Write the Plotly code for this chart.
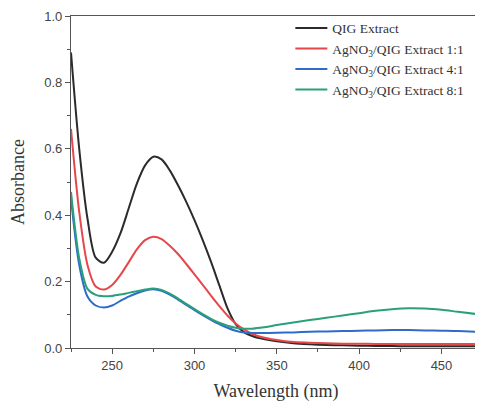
import plotly.graph_objects as go

# wavelengths (nm) and absorbance
wl = [225, 230, 235, 240, 245, 250, 255, 260, 265, 270, 275, 280, 285, 290, 295, 300,
      305, 310, 315, 320, 325, 330, 335, 340, 350, 360, 370, 380, 390, 400, 410, 420,
      430, 440, 450, 460, 475]

abs_qig = [0.89, 0.60, 0.39, 0.272, 0.257, 0.29, 0.345, 0.42, 0.495, 0.55, 0.576, 0.568, 0.535, 0.49, 0.44, 0.385,
           0.325, 0.26, 0.19, 0.12, 0.072, 0.048, 0.036, 0.029, 0.02, 0.014, 0.011, 0.009, 0.008, 0.007, 0.006, 0.006,
           0.005, 0.005, 0.005, 0.005, 0.005]

abs_11 = [0.66, 0.41, 0.25, 0.185, 0.176, 0.19, 0.22, 0.258, 0.297, 0.325, 0.335, 0.328, 0.308, 0.283, 0.253, 0.222,
          0.19, 0.158, 0.127, 0.098, 0.074, 0.056, 0.043, 0.034, 0.024, 0.018, 0.016, 0.014, 0.013, 0.013, 0.012, 0.012,
          0.012, 0.012, 0.012, 0.012, 0.012]

abs_41 = [0.45, 0.25, 0.155, 0.128, 0.122, 0.128, 0.142, 0.155, 0.165, 0.173, 0.177, 0.172, 0.161, 0.146, 0.13, 0.114,
          0.099, 0.085, 0.072, 0.061, 0.052, 0.047, 0.045, 0.045, 0.046, 0.047, 0.049, 0.05, 0.051, 0.052, 0.053, 0.054,
          0.054, 0.053, 0.052, 0.051, 0.048]

abs_81 = [0.47, 0.27, 0.178, 0.16, 0.156, 0.157, 0.161, 0.166, 0.171, 0.176, 0.179, 0.175, 0.164, 0.149, 0.133, 0.117,
          0.102, 0.088, 0.076, 0.067, 0.061, 0.058, 0.058, 0.061, 0.069, 0.077, 0.084, 0.091, 0.098, 0.105, 0.112, 0.117,
          0.12, 0.119, 0.115, 0.109, 0.10]

series = [
    ("QIG Extract", abs_qig, "#2b2b2b"),
    ("AgNO<sub>3</sub>/QIG Extract 1:1", abs_11, "#e5474b"),
    ("AgNO<sub>3</sub>/QIG Extract 4:1", abs_41, "#2f6cc9"),
    ("AgNO<sub>3</sub>/QIG Extract 8:1", abs_81, "#2aa07a"),
]

fig = go.Figure()
for name, y, col in series:
    fig.add_scatter(x=wl, y=y, mode="lines", name=name,
                    line=dict(color=col, width=2, shape="spline", smoothing=0.8))

serif = "Liberation Serif"
# page body has an 8px margin, so the figure is a bit smaller than the window
fig.update_layout(
    width=475, height=394,
    margin=dict(l=63, r=2, t=8, b=54),
    plot_bgcolor="white", paper_bgcolor="white",
    legend=dict(x=0.535, y=1.01, xanchor="left", yanchor="top",
                font=dict(family=serif, size=13.5, color="#333"),
                bgcolor="rgba(255,255,255,0)", tracegroupgap=0, itemwidth=32),
    xaxis=dict(
        range=[225, 474], tickvals=[250, 300, 350, 400, 450],
        ticks="outside", ticklen=5, tickcolor="#555",
        minor=dict(ticks="outside", ticklen=3, dtick=25, tick0=225, tickcolor="#555"),
        showline=True, linecolor="#555", linewidth=1.2, mirror=True, showgrid=False, zeroline=False,
        tickfont=dict(family="Liberation Sans", size=13, color="#444"),
        title=dict(text="Wavelength (nm)", font=dict(family=serif, size=18, color="#333"), standoff=12),
    ),
    yaxis=dict(
        range=[0, 1.0], dtick=0.2, tickformat=".1f",
        ticks="outside", ticklen=5, tickcolor="#555",
        minor=dict(ticks="outside", ticklen=3, dtick=0.1, tickcolor="#555"),
        showline=True, linecolor="#555", linewidth=1.2, mirror=True, showgrid=False, zeroline=False,
        tickfont=dict(family="Liberation Sans", size=13, color="#444"),
        title=dict(text="Absorbance", font=dict(family=serif, size=18, color="#333"), standoff=14),
    ),
)

fig.write_html("out.html")
